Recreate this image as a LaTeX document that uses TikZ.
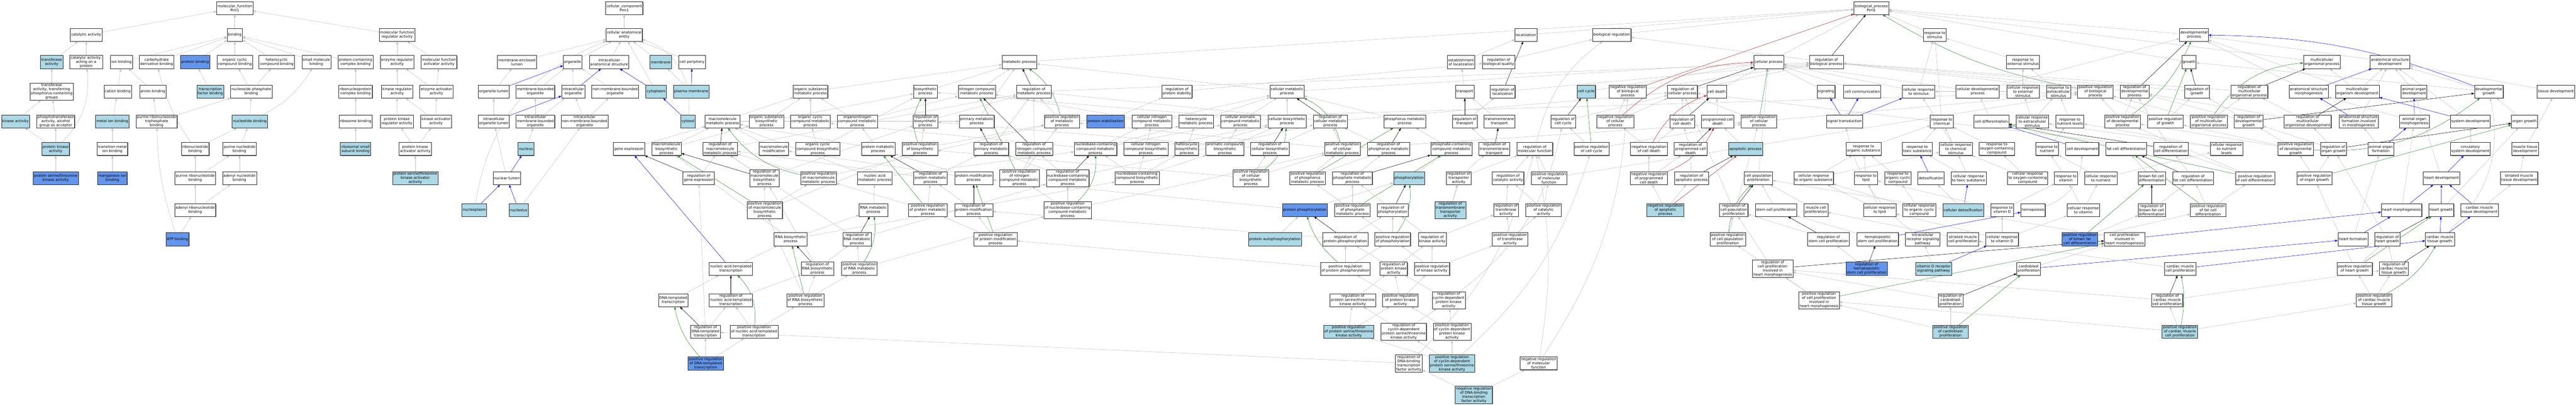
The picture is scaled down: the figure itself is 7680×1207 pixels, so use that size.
\documentclass[tikz,border=0pt]{standalone}
\usepackage{fontspec}
\setmainfont{DejaVu Sans}
\usetikzlibrary{arrows.meta,backgrounds,shadows}
\definecolor{termlight}{HTML}{ADD8E6}
\definecolor{termcorn}{HTML}{6495ED}
\definecolor{edgegray}{HTML}{C0C0C0}
\definecolor{edgegreen}{HTML}{228B22}
\definecolor{edgered}{HTML}{B22222}
\newcommand\termfont{\fontsize{10.8}{12.3}\selectfont}
\begin{document}
\begin{tikzpicture}[x=1pt,y=-1pt]
		\tikzstyle{goterm} = [draw=black!85, line width=0.9pt, fill=white, align=center,
		inner xsep=2.5pt, inner ysep=2pt, minimum height=39pt, font=\termfont,
		drop shadow={shadow xshift=1.3pt, shadow yshift=-1.3pt, fill=black!55, opacity=1}];
		\tikzstyle{golight} = [goterm, fill=termlight];
		\tikzstyle{gocorn} = [goterm, fill=termcorn];
		\tikzstyle{isa} = [draw=edgegray, line width=0.8pt, -{Triangle[length=8pt,width=6pt]}];
		\tikzstyle{regl} = [isa, draw=black];
		\tikzstyle{partof} = [isa, draw=blue];
		\tikzstyle{posreg} = [isa, draw=edgegreen];
		\tikzstyle{negreg} = [isa, draw=edgered];
		\useasboundingbox (0,0) rectangle (7680,1207);
		\node[goterm](mf) at (700,24) {molecular\_function\\Pim1};
		\node[goterm](cc) at (1861,24) {cellular\_component\\Pim1};
		\node[goterm](bp) at (5579,24) {biological\_process\\Pim1};
		\node[goterm](catact) at (257,104) {catalytic activity};
		\node[goterm](binding) at (700,104) {binding};
		\node[goterm](mfreg) at (1184,104) {molecular function\\regulator activity};
		\node[goterm](cae) at (1861,104) {cellular anatomical\\entity};
		\node[goterm](local) at (4549,104) {localization};
		\node[goterm](bioreg) at (4805,104) {biological regulation};
		\node[goterm](rstim) at (5768,104) {response to\\stimulus};
		\node[goterm](devproc) at (6541,104) {developmental\\process};
		\node[golight](transf) at (154,185) {transferase\\activity};
		\node[goterm](catprot) at (257,185) {catalytic activity,\\acting on a\\protein};
		\node[goterm](ionb) at (362,185) {ion binding};
		\node[goterm](carbb) at (467,185) {carbohydrate\\derivative binding};
		\node[gocorn](protb) at (582,185) {protein binding};
		\node[goterm](orgcyc) at (700,185) {organic cyclic\\compound binding};
		\node[goterm](hetcyc) at (825,185) {heterocyclic\\compound binding};
		\node[goterm](smallmol) at (943,185) {small molecule\\binding};
		\node[goterm](pcomplex) at (1060,185) {protein-containing\\complex binding};
		\node[goterm](enzreg) at (1184,185) {enzyme regulator\\activity};
		\node[goterm](mfact) at (1309,185) {molecular function\\activator activity};
		\node[goterm](mel) at (1541,185) {membrane-enclosed\\lumen};
		\node[goterm](organelle) at (1707,185) {organelle};
		\node[goterm](ias) at (1816,185) {intracellular\\anatomical structure};
		\node[golight](membrane) at (1970,185) {membrane};
		\node[goterm](cellper) at (2063,185) {cell periphery};
		\node[goterm](metab) at (3039,185) {metabolic process};
		\node[goterm](estloc) at (4356,185) {establishment\\of localization};
		\node[goterm](rbq) at (4468,185) {regulation of\\biological quality};
		\node[goterm](cellproc) at (5273,185) {cellular process};
		\node[goterm](rbp) at (5445,185) {regulation of\\biological process};
		\node[goterm](rext) at (6031,185) {response to\\external stimulus};
		\node[goterm](growth) at (6526,185) {growth};
		\node[goterm](mop) at (6922,185) {multicellular\\organismal process};
		\node[goterm](asd) at (7125,185) {anatomical structure\\development};
		\node[goterm](phosgrp) at (154,273) {transferase\\activity, transferring\\phosphorus-containing\\groups};
		\node[goterm](cationb) at (351,273) {cation binding};
		\node[goterm](anionb) at (456,273) {anion binding};
		\node[golight](tfb) at (627,273) {transcription\\factor binding};
		\node[goterm](nucphos) at (749,273) {nucleoside phosphate\\binding};
		\node[goterm](rnpcb) at (1060,273) {ribonucleoprotein\\complex binding};
		\node[goterm](kinreg) at (1184,273) {kinase regulator\\activity};
		\node[goterm](enzact) at (1301,273) {enzyme activator\\activity};
		\node[goterm](orglum) at (1472,273) {organelle lumen};
		\node[goterm](mbo) at (1596,273) {membrane-bounded\\organelle};
		\node[goterm](intorg) at (1709,273) {intracellular\\organelle};
		\node[goterm](nmbo) at (1834,273) {non-membrane-bounded\\organelle};
		\node[golight](cytoplasm) at (1956,273) {cytoplasm};
		\node[golight](plasmem) at (2061,273) {plasma membrane};
		\node[goterm](osmp) at (2416,273) {organic substance\\metabolic process};
		\node[goterm](biosyn) at (2759,273) {biosynthetic\\process};
		\node[goterm](ncmp) at (2912,273) {nitrogen compound\\metabolic process};
		\node[goterm](rmetab) at (3082,273) {regulation of\\metabolic process};
		\node[goterm](rpstab) at (3509,273) {regulation of\\protein stability};
		\node[goterm](cmp) at (3837,273) {cellular metabolic\\process};
		\node[goterm](transport) at (4367,273) {transport};
		\node[goterm](rloc) at (4480,273) {regulation of\\localization};
		\node[golight](cellcyc) at (4729,273) {cell cycle};
		\node[goterm](nrbp) at (4853,273) {negative regulation\\of biological\\process};
		\node[goterm](rcp) at (5016,273) {regulation of\\cellular process};
		\node[goterm](celldeath) at (5118,273) {cell death};
		\node[goterm](signaling) at (5444,273) {signaling};
		\node[goterm](cellcomm) at (5552,273) {cell communication};
		\node[goterm](crstim) at (5720,273) {cellular response\\to stimulus};
		\node[goterm](cdp) at (5896,273) {cellular developmental\\process};
		\node[goterm](crext) at (6031,273) {cellular response\\to external\\stimulus};
		\node[goterm](rextra) at (6137,273) {response to\\extracellular\\stimulus};
		\node[goterm](prbp) at (6247,273) {positive regulation\\of biological\\process};
		\node[goterm](rdp) at (6364,273) {regulation of\\developmental\\process};
		\node[goterm](rgrowth) at (6550,273) {regulation of\\growth};
		\node[goterm](rmop) at (6706,273) {regulation of\\multicellular\\organismal process};
		\node[goterm](asm) at (6883,273) {anatomical structure\\morphogenesis};
		\node[goterm](mod) at (7028,273) {multicellular\\organism development};
		\node[goterm](aod) at (7197,273) {animal organ\\development};
		\node[goterm](devgrowth) at (7420,273) {developmental\\growth};
		\node[goterm](tissdev) at (7620,273) {tissue development};
		\node[golight](kinase) at (46,362) {kinase activity};
		\node[goterm](phosalc) at (166,362) {phosphotransferase\\activity, alcohol\\group as acceptor};
		\node[golight](metalb) at (335,362) {metal ion binding};
		\node[goterm](prtpb) at (467,362) {purine ribonucleoside\\triphosphate\\binding};
		\node[golight](nucb) at (745,362) {nucleotide binding};
		\node[goterm](ribob) at (1060,362) {ribosome binding};
		\node[goterm](pkreg) at (1183,362) {protein kinase\\regulator activity};
		\node[goterm](kinact) at (1300,362) {kinase activator\\activity};
		\node[goterm](iol) at (1472,362) {intracellular\\organelle lumen};
		\node[goterm](imbo) at (1596,362) {intracellular\\membrane-bounded\\organelle};
		\node[goterm](inmbo) at (1743,362) {intracellular\\non-membrane-bounded\\organelle};
		\node[golight](cytosol) at (2051,362) {cytosol};
		\node[goterm](mmp) at (2154,362) {macromolecule\\metabolic process};
		\node[goterm](osbp) at (2285,362) {organic substance\\biosynthetic\\process};
		\node[goterm](occmp) at (2416,362) {organic cyclic\\compound metabolic\\process};
		\node[goterm](oncmp) at (2556,362) {organonitrogen\\compound metabolic\\process};
		\node[goterm](regbio) at (2759,362) {regulation of\\biosynthetic\\process};
		\node[goterm](pmp) at (2912,362) {primary metabolic\\process};
		\node[goterm](prmetab) at (3166,362) {positive regulation\\of metabolic\\process};
		\node[gocorn](pstab) at (3296,362) {protein stabilization};
		\node[goterm](cncmp) at (3434,362) {cellular nitrogen\\compound metabolic\\process};
		\node[goterm](hetmp) at (3566,362) {heterocycle\\metabolic process};
		\node[goterm](camp) at (3698,362) {cellular aromatic\\compound metabolic\\process};
		\node[goterm](cbp) at (3837,362) {cellular biosynthetic\\process};
		\node[goterm](rcmp) at (3966,362) {regulation of\\cellular metabolic\\process};
		\node[goterm](phosmp) at (4188,362) {phosphorus metabolic\\process};
		\node[goterm](rtrans) at (4367,362) {regulation of\\transport};
		\node[goterm](tmtrans) at (4470,362) {transmembrane\\transport};
		\node[goterm](rcc) at (4660,362) {regulation of\\cell cycle};
		\node[goterm](nrcp) at (4816,362) {negative regulation\\of cellular\\process};
		\node[goterm](rcd) at (5015,362) {regulation of\\cell death};
		\node[goterm](pcd) at (5121,362) {programmed cell\\death};
		\node[goterm](prcp) at (5244,362) {positive regulation\\of cellular\\process};
		\node[goterm](sigtrans) at (5499,362) {signal transduction};
		\node[goterm](rchem) at (5789,362) {response to\\chemical};
		\node[goterm](celldiff) at (5937,362) {cell differentiation};
		\node[goterm](crextra) at (6059,362) {cellular response\\to extracellular\\stimulus};
		\node[goterm](rnutl) at (6171,362) {response to\\nutrient levels};
		\node[goterm](prdp) at (6328,362) {positive regulation\\of developmental\\process};
		\node[goterm](prgrowth) at (6456,362) {positive regulation\\of growth};
		\node[goterm](prmop) at (6585,362) {positive regulation\\of multicellular\\organismal process};
		\node[goterm](rdg) at (6704,362) {regulation of\\developmental\\growth};
		\node[goterm](rmod) at (6880,362) {regulation of\\multicellular\\organismal development};
		\node[goterm](asfm) at (7032,362) {anatomical structure\\formation involved\\in morphogenesis};
		\node[goterm](aom) at (7198,362) {animal organ\\morphogenesis};
		\node[goterm](sysdev) at (7365,362) {system development};
		\node[goterm](orggrowth) at (7526,362) {organ growth};
		\node[golight](pkact) at (166,444) {protein kinase\\activity};
		\node[goterm](transmet) at (335,444) {transition metal\\ion binding};
		\node[goterm](ribonuc) at (582,444) {ribonucleotide\\binding};
		\node[goterm](purnucb) at (714,444) {purine nucleotide\\binding};
		\node[golight](rssb) at (1060,444) {ribosomal small\\subunit binding};
		\node[goterm](pkactor) at (1238,444) {protein kinase\\activator activity};
		\node[golight](nucleus) at (1568,444) {nucleus};
		\node[goterm](genexp) at (1875,444) {gene expression};
		\node[goterm](mbp) at (1987,444) {macromolecule\\biosynthetic\\process};
		\node[goterm](rmmp) at (2147,444) {regulation of\\macromolecule\\metabolic process};
		\node[goterm](mmod) at (2307,444) {macromolecule\\modification};
		\node[goterm](occbp) at (2438,444) {organic cyclic\\compound biosynthetic\\process};
		\node[goterm](protmp) at (2618,444) {protein metabolic\\process};
		\node[goterm](prbio) at (2743,444) {positive regulation\\of biosynthetic\\process};
		\node[goterm](rpmp) at (2955,444) {regulation of\\primary metabolic\\process};
		\node[goterm](rncmp) at (3083,444) {regulation of\\nitrogen compound\\metabolic process};
		\node[goterm](nccmp) at (3266,444) {nucleobase-containing\\compound metabolic\\process};
		\node[goterm](cncbp) at (3416,444) {cellular nitrogen\\compound biosynthetic\\process};
		\node[goterm](hetbp) at (3538,444) {heterocycle\\biosynthetic\\process};
		\node[goterm](acbp) at (3652,444) {aromatic compound\\biosynthetic\\process};
		\node[goterm](rcbp) at (3786,444) {regulation of\\cellular biosynthetic\\process};
		\node[goterm](prcmp) at (4002,444) {positive regulation\\of cellular\\metabolic process};
		\node[goterm](rphosmp) at (4140,444) {regulation of\\phosphorus metabolic\\process};
		\node[goterm](pccmp) at (4327,444) {phosphate-containing\\compound metabolic\\process};
		\node[goterm](rtmt) at (4455,444) {regulation of\\transmembrane\\transport};
		\node[goterm](rmf) at (4576,444) {regulation of\\molecular function};
		\node[goterm](prcc) at (4745,444) {positive regulation\\of cell cycle};
		\node[goterm](nrcd) at (4916,444) {negative regulation\\of cell death};
		\node[goterm](rpcd) at (5040,444) {regulation of\\programmed cell\\death};
		\node[golight](apop) at (5204,444) {apoptotic process};
		\node[goterm](rorgsub) at (5556,444) {response to\\organic substance};
		\node[goterm](rtox) at (5716,444) {response to\\toxic substance};
		\node[goterm](crchem) at (5831,444) {cellular response\\to chemical\\stimulus};
		\node[goterm](roxy) at (5953,444) {response to\\oxygen-containing\\compound};
		\node[goterm](rnut) at (6103,444) {response to\\nutrient};
		\node[goterm](celldev) at (6208,444) {cell development};
		\node[goterm](fcd) at (6339,444) {fat cell differentiation};
		\node[goterm](rcdiff) at (6472,444) {regulation of\\cell differentiation};
		\node[goterm](crnutl) at (6638,444) {cellular response\\to nutrient\\levels};
		\node[goterm](prdg) at (6844,444) {positive regulation\\of developmental\\growth};
		\node[goterm](rog) at (6957,444) {regulation of\\organ growth};
		\node[goterm](aof) at (7098,444) {animal organ\\formation};
		\node[goterm](csd) at (7365,444) {circulatory\\system development};
		\node[goterm](mtd) at (7528,444) {muscle tissue\\development};
		\node[gocorn](pstk) at (166,531) {protein serine/threonine\\kinase activity};
		\node[gocorn](mnb) at (335,531) {manganese ion\\binding};
		\node[goterm](purrib) at (582,531) {purine ribonucleotide\\binding};
		\node[goterm](adenb) at (714,531) {adenyl nucleotide\\binding};
		\node[golight](pstkact) at (1238,531) {protein serine/threonine\\kinase activator\\activity};
		\node[goterm](nuclum) at (1511,531) {nuclear lumen};
		\node[goterm](rgenexp) at (2083,531) {regulation of\\gene expression};
		\node[goterm](rmbp) at (2279,531) {regulation of\\macromolecule\\biosynthetic\\process};
		\node[goterm](prmmp) at (2440,531) {positive regulation\\of macromolecule\\metabolic process};
		\node[goterm](nacmp) at (2608,531) {nucleic acid\\metabolic process};
		\node[goterm](rprotmp) at (2774,531) {regulation of\\protein metabolic\\process};
		\node[goterm](pmodp) at (2903,531) {protein modification\\process};
		\node[goterm](prncmp) at (3039,531) {positive regulation\\of nitrogen\\compound metabolic\\process};
		\node[goterm](rnccmp) at (3183,531) {regulation of\\nucleobase-containing\\compound metabolic\\process};
		\node[goterm](nccbp) at (3390,531) {nucleobase-containing\\compound biosynthetic\\process};
		\node[goterm](prcbp) at (3729,531) {positive regulation\\of cellular\\biosynthetic\\process};
		\node[goterm](prphosmp) at (3898,531) {positive regulation\\of phosphorus\\metabolic process};
		\node[goterm](rphatmp) at (4032,531) {regulation of\\phosphate metabolic\\process};
		\node[golight](phosph) at (4201,531) {phosphorylation};
		\node[goterm](rtact) at (4349,531) {regulation of\\transporter\\activity};
		\node[goterm](rcat) at (4496,531) {regulation of\\catalytic activity};
		\node[goterm](prmf) at (4618,531) {positive regulation\\of molecular\\function};
		\node[goterm](nrpcd) at (4916,531) {negative regulation\\of programmed\\cell death};
		\node[goterm](rapop) at (5043,531) {regulation of\\apoptotic process};
		\node[goterm](cpp) at (5242,531) {cell population\\proliferation};
		\node[goterm](crorg) at (5407,531) {cellular response\\to organic substance};
		\node[goterm](rlipid) at (5563,531) {response to\\lipid};
		\node[goterm](rocc) at (5658,531) {response to\\organic cyclic\\compound};
		\node[goterm](detox) at (5757,531) {detoxification};
		\node[goterm](crtox) at (5869,531) {cellular response\\to toxic substance};
		\node[goterm](croxy) at (6045,531) {cellular response\\to oxygen-containing\\compound};
		\node[goterm](rvit) at (6159,531) {response to\\vitamin};
		\node[goterm](crnut) at (6263,531) {cellular response\\to nutrient};
		\node[goterm](bfcd) at (6415,531) {brown fat cell\\differentiation};
		\node[goterm](rfcd) at (6538,531) {regulation of\\fat cell differentiation};
		\node[goterm](prcdiff) at (6723,531) {positive regulation\\of cell differentiation};
		\node[goterm](prog) at (6900,531) {positive regulation\\of organ growth};
		\node[goterm](heartdev) at (7279,531) {heart development};
		\node[goterm](smtd) at (7510,531) {striated muscle\\tissue development};
		\node[goterm](adenrib) at (582,626) {adenyl ribonucleotide\\binding};
		\node[golight](nucplasm) at (1414,626) {nucleoplasm};
		\node[golight](nucleolus) at (1546,626) {nucleolus};
		\node[goterm](prmbp) at (2280,626) {positive regulation\\of macromolecule\\biosynthetic\\process};
		\node[goterm](rnamp) at (2604,626) {RNA metabolic\\process};
		\node[goterm](prprotmp) at (2766,626) {positive regulation\\of protein metabolic\\process};
		\node[goterm](rpmodp) at (2903,626) {regulation of\\protein modification\\process};
		\node[goterm](prnccmp) at (3183,626) {positive regulation\\of nucleobase-containing\\compound metabolic\\process};
		\node[gocorn](protphos) at (3890,626) {protein phosphorylation};
		\node[goterm](prphatmp) at (4032,626) {positive regulation\\of phosphate\\metabolic process};
		\node[goterm](rphos) at (4152,626) {regulation of\\phosphorylation};
		\node[golight](rtmta) at (4324,626) {regulation of\\transmembrane\\transporter\\activity};
		\node[goterm](rtransf) at (4490,626) {regulation of\\transferase\\activity};
		\node[goterm](prcat) at (4602,626) {positive regulation\\of catalytic\\activity};
		\node[golight](nrapop) at (4965,626) {negative regulation\\of apoptotic\\process};
		\node[goterm](rcpp) at (5169,626) {regulation of\\cell population\\proliferation};
		\node[goterm](scp) at (5295,626) {stem cell proliferation};
		\node[goterm](mcp) at (5414,626) {muscle cell\\proliferation};
		\node[goterm](crlipid) at (5604,626) {cellular response\\to lipid};
		\node[goterm](crocc) at (5722,626) {cellular response\\to organic cyclic\\compound};
		\node[golight](cdetox) at (5853,626) {cellular detoxification};
		\node[goterm](rvitd) at (5969,626) {response to\\vitamin D};
		\node[goterm](hemo) at (6061,626) {hemopoiesis};
		\node[goterm](crvit) at (6211,626) {cellular response\\to vitamin};
		\node[goterm](rbfcd) at (6415,626) {regulation of\\brown fat cell\\differentiation};
		\node[goterm](prfcd) at (6583,626) {positive regulation\\of fat cell\\differentiation};
		\node[goterm](heartmorph) at (7160,626) {heart morphogenesis};
		\node[goterm](heartgrowth) at (7278,626) {heart growth};
		\node[goterm](cmtd) at (7392,626) {cardiac muscle\\tissue development};
		\node[gocorn](atpb) at (529,713) {ATP binding};
		\node[goterm](rnabp) at (2357,713) {RNA biosynthetic\\process};
		\node[goterm](rrnamp) at (2555,713) {regulation of\\RNA metabolic\\process};
		\node[goterm](prpmodp) at (2968,713) {positive regulation\\of protein modification\\process};
		\node[golight](autophos) at (3801,713) {protein autophosphorylation};
		\node[goterm](rprotphos) at (4011,713) {regulation of\\protein phosphorylation};
		\node[goterm](prphos) at (4152,713) {positive regulation\\of phosphorylation};
		\node[goterm](rkin) at (4270,713) {regulation of\\kinase activity};
		\node[goterm](prtransf) at (4502,713) {positive regulation\\of transferase\\activity};
		\node[goterm](prcpp) at (5151,713) {positive regulation\\of cell population\\proliferation};
		\node[goterm](rscp) at (5451,713) {regulation of\\stem cell proliferation};
		\node[goterm](hscp) at (5598,713) {hematopoietic\\stem cell proliferation};
		\node[goterm](irsp) at (5732,713) {intracellular\\receptor signaling\\pathway};
		\node[goterm](smcp) at (5852,713) {striated muscle\\cell proliferation};
		\node[goterm](crvitd) at (5969,713) {cellular response\\to vitamin D};
		\node[gocorn](prbfcd) at (6201,713) {positive regulation\\of brown fat\\cell differentiation};
		\node[goterm](cpihm) at (6334,713) {cell proliferation\\involved in\\heart morphogenesis};
		\node[goterm](heartform) at (7015,713) {heart formation};
		\node[goterm](rhg) at (7117,713) {regulation of\\heart growth};
		\node[goterm](cmtg) at (7274,713) {cardiac muscle\\tissue growth};
		\node[goterm](natt) at (2179,801) {nucleic acid-templated\\transcription};
		\node[goterm](rrnabp) at (2437,801) {regulation of\\RNA biosynthetic\\process};
		\node[goterm](prrnamp) at (2562,801) {positive regulation\\of RNA metabolic\\process};
		\node[goterm](prprotphos) at (4011,801) {positive regulation\\of protein phosphorylation};
		\node[goterm](rpk) at (4155,801) {regulation of\\protein kinase\\activity};
		\node[goterm](prkin) at (4269,801) {positive regulation\\of kinase activity};
		\node[goterm](rcpihm) at (5285,801) {regulation of\\cell proliferation\\involved in\\heart morphogenesis};
		\node[gocorn](rhscp) at (5565,801) {regulation of\\hematopoietic\\stem cell proliferation};
		\node[golight](vdrsp) at (5765,801) {vitamin D receptor\\signaling pathway};
		\node[goterm](cbprol) at (6048,801) {cardioblast\\proliferation};
		\node[goterm](cmcp) at (6500,801) {cardiac muscle\\cell proliferation};
		\node[goterm](prhg) at (7020,801) {positive regulation\\of heart growth};
		\node[goterm](rcmtg) at (7137,801) {regulation of\\cardiac muscle\\tissue growth};
		\node[goterm](dtt) at (2007,895) {DNA-templated\\transcription};
		\node[goterm](rnatt) at (2179,895) {regulation of\\nucleic acid-templated\\transcription};
		\node[goterm](prrnabp) at (2401,895) {positive regulation\\of RNA biosynthetic\\process};
		\node[goterm](rpstka) at (4033,895) {regulation of\\protein serine/threonine\\kinase activity};
		\node[goterm](prpk) at (4175,895) {positive regulation\\of protein kinase\\activity};
		\node[goterm](rcdpk) at (4319,895) {regulation of\\cyclin-dependent\\protein kinase\\activity};
		\node[goterm](prcpihm) at (5423,895) {positive regulation\\of cell proliferation\\involved in\\heart morphogenesis};
		\node[goterm](rcbprol) at (5815,895) {regulation of\\cardioblast\\proliferation};
		\node[goterm](rcmcp) at (6461,895) {regulation of\\cardiac muscle\\cell proliferation};
		\node[goterm](prcmtg) at (7078,895) {positive regulation\\of cardiac muscle\\tissue growth};
		\node[goterm](rdtt) at (2103,989) {regulation of\\DNA-templated\\transcription};
		\node[goterm](prnatt) at (2248,989) {positive regulation\\of nucleic acid-templated\\transcription};
		\node[golight](prpstka) at (4021,989) {positive regulation\\of protein serine/threonine\\kinase activity};
		\node[goterm](rcdpstk) at (4185,989) {regulation of\\cyclin-dependent\\protein serine/threonine\\kinase activity};
		\node[goterm](prcdpk) at (4329,989) {positive regulation\\of cyclin-dependent\\protein kinase\\activity};
		\node[golight](prcbprol) at (5815,989) {positive regulation\\of cardioblast\\proliferation};
		\node[golight](prcmcp) at (6499,989) {positive regulation\\of cardiac muscle\\cell proliferation};
		\node[gocorn](prdtt) at (2104,1083) {positive regulation\\of DNA-templated\\transcription};
		\node[goterm](rdbtf) at (4200,1083) {regulation of\\DNA-binding\\transcription\\factor activity};
		\node[golight](prcdpstk) at (4329,1083) {positive regulation\\of cyclin-dependent\\protein serine/threonine\\kinase activity};
		\node[goterm](nrmf) at (4587,1083) {negative regulation\\of molecular\\function};
		\node[golight](nrdbtf) at (4394,1177) {negative regulation\\of DNA-binding\\transcription\\factor activity};
		\begin{pgfonlayer}{background}
		\fill[white] (0,0) rectangle (7680,1207);
		\path (catact) edge[isa] (mf);
		\path (binding) edge[isa] (mf);
		\path (mfreg) edge[isa] (mf);
		\path (transf) edge[isa] (catact);
		\path (catprot) edge[isa] (catact);
		\path (ionb) edge[isa] (binding);
		\path (carbb) edge[isa] (binding);
		\path (protb) edge[isa] (binding);
		\path (orgcyc) edge[isa] (binding);
		\path (hetcyc) edge[isa] (binding);
		\path (smallmol) edge[isa] (binding);
		\path (pcomplex) edge[isa] (binding);
		\path (enzreg) edge[isa] (mfreg);
		\path (mfact) edge[isa] (mfreg);
		\path (phosgrp) edge[isa] (transf);
		\path (cationb) edge[isa] (ionb);
		\path (anionb) edge[isa] (ionb);
		\path (tfb) edge[isa] (protb);
		\path (nucphos) edge[isa] (orgcyc) edge[isa] (hetcyc);
		\path (rnpcb) edge[isa] (pcomplex);
		\path (kinreg) edge[isa] (enzreg);
		\path (enzact) edge[isa] (enzreg) edge[isa] (mfact);
		\path (kinase) edge[isa] (phosgrp);
		\path (phosalc) edge[isa] (phosgrp);
		\path (metalb) edge[isa] (cationb);
		\path (prtpb) edge[isa] (anionb) edge[isa] (nucphos);
		\path (nucb) edge[isa] (nucphos) edge[isa, bend right=15] (smallmol);
		\path (ribob) edge[isa] (rnpcb);
		\path (pkreg) edge[isa] (kinreg);
		\path (kinact) edge[isa] (kinreg) edge[isa] (enzact);
		\path (pkact) edge[isa] (kinase) edge[isa] (phosalc) edge[isa, bend right=25] (catprot);
		\path (transmet) edge[isa] (metalb);
		\path (ribonuc) edge[isa, bend left=10] (carbb) edge[isa] (nucb);
		\path (purnucb) edge[isa] (nucb);
		\path (rssb) edge[isa] (ribob);
		\path (pkactor) edge[isa] (pkreg) edge[isa] (kinact);
		\path (pstk) edge[isa] (pkact);
		\path (mnb) edge[isa] (transmet);
		\path (purrib) edge[isa] (ribonuc) edge[isa] (purnucb);
		\path (adenb) edge[isa] (purnucb);
		\path (pstkact) edge[isa] (pkactor);
		\path (adenrib) edge[isa] (purrib) edge[isa] (adenb);
		\path (atpb) edge[isa] (adenrib) edge[isa, bend left=8] (prtpb);
		\path (cae) edge[isa] (cc);
		\path (mel) edge[isa] (cae);
		\path (organelle) edge[isa] (cae);
		\path (ias) edge[isa] (cae);
		\path (membrane) edge[isa] (cae);
		\path (cellper) edge[isa] (cae);
		\path (orglum) edge[isa] (mel) edge[partof] (organelle);
		\path (mbo) edge[isa] (organelle);
		\path (intorg) edge[isa] (organelle) edge[partof] (ias);
		\path (nmbo) edge[isa] (organelle);
		\path (cytoplasm) edge[isa] (cae) edge[partof] (ias);
		\path (plasmem) edge[isa] (membrane) edge[partof] (cellper);
		\path (iol) edge[isa] (orglum) edge[partof] (intorg);
		\path (imbo) edge[isa] (mbo) edge[isa] (intorg);
		\path (inmbo) edge[isa] (intorg) edge[isa] (nmbo);
		\path (cytosol) edge[isa, bend right=40] (cae) edge[partof] (cytoplasm);
		\path (nucleus) edge[isa] (imbo);
		\path (nuclum) edge[isa] (iol) edge[partof] (nucleus);
		\path (nucplasm) edge[isa, bend left=30] (cae) edge[partof] (nuclum);
		\path (nucleolus) edge[isa] (inmbo) edge[partof] (nuclum);
		\path (local) edge[isa] (bp);
		\path (bioreg) edge[isa] (bp);
		\path (rstim) edge[isa] (bp);
		\path (devproc) edge[isa] (bp);
		\path (growth) edge[isa] (bp);
		\path (mop) edge[isa] (bp);
		\path (metab) edge[isa] (bp);
		\path (cellproc) edge[isa] (bp);
		\path (rbp) edge[isa] (bioreg) edge[regl] (bp);
		\path (nrbp) edge[isa] (rbp) edge[negreg] (bp);
		\path (prbp) edge[isa] (rbp) edge[posreg, bend left=10] (bp);
		\path (estloc) edge[isa] (local);
		\path (rbq) edge[isa] (bioreg);
		\path (transport) edge[isa] (estloc);
		\path (rloc) edge[isa] (rbp) edge[regl] (local);
		\path (rmf) edge[isa, bend left=20] (bioreg);
		\path (osmp) edge[isa] (metab);
		\path (biosyn) edge[isa] (metab);
		\path (ncmp) edge[isa] (metab);
		\path (pmp) edge[isa] (metab);
		\path (cmp) edge[isa] (metab) edge[isa] (cellproc);
		\path (rmetab) edge[isa] (rbp) edge[regl] (metab);
		\path (rpstab) edge[isa] (rbq);
		\path (mmp) edge[isa] (osmp) edge[isa] (pmp);
		\path (osbp) edge[isa] (osmp) edge[isa] (biosyn);
		\path (occmp) edge[isa] (osmp);
		\path (oncmp) edge[isa] (osmp) edge[isa] (ncmp);
		\path (regbio) edge[isa] (rmetab) edge[regl] (biosyn);
		\path (prmetab) edge[isa] (rmetab) edge[isa] (prbp) edge[posreg, bend right=20] (metab);
		\path (pstab) edge[isa] (rpstab);
		\path (cncmp) edge[isa] (ncmp) edge[isa] (cmp);
		\path (hetmp) edge[isa] (cmp);
		\path (camp) edge[isa] (cmp);
		\path (cbp) edge[isa] (cmp) edge[isa] (biosyn);
		\path (rcmp) edge[isa] (rmetab) edge[isa] (rcp) edge[regl] (cmp);
		\path (phosmp) edge[isa] (cmp);
		\path (genexp) edge[isa] (mmp);
		\path (mbp) edge[isa] (mmp) edge[isa] (osbp);
		\path (rmmp) edge[isa] (rmetab) edge[regl] (mmp);
		\path (mmod) edge[isa] (mmp);
		\path (occbp) edge[isa] (occmp) edge[isa] (biosyn);
		\path (protmp) edge[isa] (oncmp) edge[isa] (mmp);
		\path (prbio) edge[isa] (regbio) edge[isa] (prmetab) edge[posreg, bend left=25] (biosyn);
		\path (rpmp) edge[isa] (rmetab) edge[regl] (pmp);
		\path (rncmp) edge[isa] (rmetab) edge[regl] (ncmp);
		\path (nccmp) edge[isa] (hetmp) edge[isa] (camp) edge[isa] (cncmp) edge[isa] (occmp);
		\path (cncbp) edge[isa] (cncmp) edge[isa] (cbp);
		\path (hetbp) edge[isa] (hetmp) edge[isa] (cbp);
		\path (acbp) edge[isa] (camp) edge[isa] (cbp);
		\path (rcbp) edge[isa] (regbio) edge[isa] (rcmp) edge[regl] (cbp);
		\path (prcmp) edge[isa] (rcmp) edge[isa] (prmetab) edge[isa] (prcp) edge[posreg, bend right=25] (cmp);
		\path (rphosmp) edge[isa] (rcmp) edge[regl] (phosmp);
		\path (pccmp) edge[isa] (phosmp);
		\path (rgenexp) edge[isa] (rmmp) edge[regl] (genexp);
		\path (rmbp) edge[isa] (rmmp) edge[isa] (regbio) edge[regl] (mbp);
		\path (prmmp) edge[isa] (rmmp) edge[isa] (prmetab) edge[posreg, bend left=20] (mmp);
		\path (nacmp) edge[isa] (nccmp) edge[isa] (mmp);
		\path (rprotmp) edge[isa] (rmmp) edge[isa] (rpmp) edge[regl] (protmp);
		\path (pmodp) edge[isa] (protmp) edge[isa] (mmod);
		\path (prncmp) edge[isa] (rncmp) edge[isa] (prmetab) edge[posreg] (ncmp);
		\path (rnccmp) edge[isa] (rncmp) edge[isa] (rcmp) edge[isa] (rpmp) edge[regl] (nccmp);
		\path (nccbp) edge[isa] (nccmp) edge[isa] (cncbp) edge[isa] (hetbp) edge[isa] (acbp);
		\path (prcbp) edge[isa] (rcbp) edge[isa] (prcmp) edge[isa] (prbio) edge[posreg, bend right=25] (cbp);
		\path (prphosmp) edge[isa] (rphosmp) edge[isa] (prcmp) edge[posreg] (phosmp);
		\path (rphatmp) edge[isa] (rphosmp) edge[regl] (pccmp);
		\path (phosph) edge[isa] (pccmp);
		\path (prmbp) edge[isa] (rmbp) edge[isa] (prmmp) edge[isa] (prbio) edge[posreg] (mbp);
		\path (rnamp) edge[isa] (nacmp);
		\path (prprotmp) edge[isa] (rprotmp) edge[isa] (prmmp) edge[posreg] (protmp);
		\path (rpmodp) edge[isa] (rprotmp) edge[regl] (pmodp);
		\path (prnccmp) edge[isa] (rnccmp) edge[isa] (prncmp) edge[isa] (prcmp) edge[posreg, bend right=25] (nccmp);
		\path (protphos) edge[isa] (phosph) edge[isa] (pmodp);
		\path (prphatmp) edge[isa] (rphatmp) edge[isa] (prphosmp) edge[posreg] (pccmp);
		\path (rphos) edge[isa] (rphatmp) edge[regl] (phosph);
		\path (rnabp) edge[isa] (rnamp) edge[isa] (mbp) edge[isa] (nccbp);
		\path (rrnamp) edge[isa] (rnccmp) edge[isa] (rmmp) edge[regl] (rnamp);
		\path (prpmodp) edge[isa] (rpmodp) edge[isa] (prprotmp) edge[posreg] (pmodp);
		\path (autophos) edge[isa] (protphos);
		\path (rprotphos) edge[isa] (rphos) edge[isa] (rpmodp) edge[regl] (protphos);
		\path (prphos) edge[isa] (rphos) edge[isa] (prphatmp) edge[posreg, bend right=20] (phosph);
		\path (rkin) edge[isa] (rtransf) edge[isa] (rphos);
		\path (natt) edge[isa] (rnabp) edge[partof] (genexp);
		\path (rrnabp) edge[isa] (rrnamp) edge[isa] (rmbp) edge[regl] (rnabp);
		\path (prrnamp) edge[isa] (rrnamp) edge[isa] (prnccmp) edge[posreg, bend right=20] (rnamp);
		\path (prprotphos) edge[isa] (rprotphos) edge[isa] (prphos) edge[isa] (prpmodp) edge[posreg, bend left=15] (protphos);
		\path (rpk) edge[isa] (rkin) edge[isa] (rprotphos);
		\path (prkin) edge[isa] (rkin) edge[isa] (prtransf) edge[isa] (prphos);
		\path (dtt) edge[isa] (natt);
		\path (rnatt) edge[regl] (natt) edge[isa] (rrnabp);
		\path (prrnabp) edge[isa] (rrnabp) edge[isa] (prrnamp) edge[isa] (prmbp) edge[posreg] (rnabp);
		\path (rpstka) edge[isa] (rpk);
		\path (prpk) edge[isa] (rpk) edge[isa] (prkin) edge[isa] (prprotphos);
		\path (rcdpk) edge[isa] (rpk) edge[isa, bend right=20] (rcc);
		\path (rdtt) edge[isa] (rnatt) edge[isa] (rgenexp) edge[regl] (dtt);
		\path (prnatt) edge[isa] (rnatt) edge[isa] (prrnabp) edge[posreg, bend right=25] (natt);
		\path (prpstka) edge[isa] (rpstka) edge[isa] (prpk);
		\path (rcdpstk) edge[isa] (rpstka) edge[isa] (rcdpk);
		\path (prcdpk) edge[isa] (rcdpk) edge[isa] (prpk);
		\path (prdtt) edge[isa] (rdtt) edge[isa] (prnatt) edge[posreg, bend left=15] (dtt);
		\path (rdbtf) edge[isa, bend right=15] (rmf) edge[isa] (rdtt);
		\path (prcdpstk) edge[isa] (rcdpstk) edge[isa] (prcdpk) edge[isa] (prpstka) edge[isa, bend right=15] (prcc);
		\path (nrmf) edge[isa, bend right=10] (rmf) edge[isa, bend right=15] (nrbp);
		\path (nrdbtf) edge[isa] (rdbtf) edge[isa] (nrmf);
		\path (cellcyc) edge[isa] (cellproc);
		\path (rcp) edge[isa] (rbp) edge[regl] (cellproc);
		\path (celldeath) edge[isa] (cellproc);
		\path (rtrans) edge[isa] (rloc) edge[regl] (transport);
		\path (tmtrans) edge[isa] (transport);
		\path (rcc) edge[isa] (rcp) edge[regl] (cellcyc);
		\path (nrcp) edge[isa] (rcp) edge[isa] (nrbp) edge[negreg, bend left=20] (cellproc);
		\path (rcd) edge[isa] (rcp) edge[regl] (celldeath);
		\path (pcd) edge[isa] (celldeath);
		\path (prcp) edge[isa] (rcp) edge[isa] (prbp) edge[posreg] (cellproc);
		\path (rtmt) edge[isa] (rtrans) edge[regl] (tmtrans);
		\path (prcc) edge[isa] (rcc) edge[isa] (prcp) edge[posreg] (cellcyc);
		\path (nrcd) edge[isa] (rcd) edge[isa] (nrcp) edge[negreg, bend left=20] (celldeath);
		\path (rpcd) edge[isa] (rcd) edge[regl] (pcd);
		\path (apop) edge[isa] (pcd);
		\path (rtact) edge[isa] (rmf);
		\path (rcat) edge[isa] (rmf);
		\path (prmf) edge[isa] (rmf) edge[isa] (prbp);
		\path (nrpcd) edge[isa] (rpcd) edge[isa] (nrcd) edge[negreg, bend right=20] (pcd);
		\path (rapop) edge[isa] (rpcd) edge[regl] (apop);
		\path (cpp) edge[isa] (cellproc);
		\path (rtmta) edge[isa] (rtact) edge[isa, bend left=20] (rtmt);
		\path (rtransf) edge[isa] (rcat);
		\path (prcat) edge[isa] (rcat) edge[isa] (prmf);
		\path (nrapop) edge[isa] (rapop) edge[isa] (nrpcd) edge[negreg] (apop);
		\path (rcpp) edge[isa] (rcp) edge[regl] (cpp);
		\path (scp) edge[isa] (cpp);
		\path (prtransf) edge[isa] (rtransf) edge[isa] (prcat);
		\path (prcpp) edge[isa] (rcpp) edge[isa] (prcp) edge[posreg, bend left=20] (cpp);
		\path (rcpihm) edge[isa] (rcpp) edge[regl] (cpihm);
		\path (rext) edge[isa] (rstim);
		\path (signaling) edge[isa] (cellproc);
		\path (cellcomm) edge[isa] (cellproc);
		\path (crstim) edge[isa] (rstim) edge[isa] (cellproc);
		\path (cdp) edge[isa] (devproc) edge[isa] (cellproc);
		\path (crext) edge[isa] (rext) edge[isa] (crstim);
		\path (rextra) edge[isa] (rext);
		\path (rdp) edge[isa] (rbp) edge[regl] (devproc);
		\path (rgrowth) edge[isa] (rbp) edge[regl] (growth);
		\path (rmop) edge[isa] (rbp) edge[regl] (mop);
		\path (asd) edge[isa] (devproc);
		\path (asm) edge[isa] (devproc) edge[partof] (asd);
		\path (mod) edge[isa] (asd) edge[isa] (mop) edge[isa] (devproc);
		\path (aod) edge[isa] (asd);
		\path (devgrowth) edge[isa] (growth) edge[isa] (asd) edge[partof, bend right=10] (devproc);
		\path (tissdev) edge[isa] (asd);
		\path (sigtrans) edge[partof] (signaling) edge[partof] (cellcomm) edge[partof] (crstim);
		\path (rchem) edge[isa] (rstim);
		\path (celldiff) edge[isa] (cdp);
		\path (crextra) edge[isa] (rextra) edge[isa] (crext);
		\path (rnutl) edge[isa] (rextra);
		\path (prdp) edge[isa] (rdp) edge[isa] (prbp) edge[posreg, bend right=15] (devproc);
		\path (prgrowth) edge[isa] (rgrowth) edge[isa] (prbp) edge[posreg] (growth);
		\path (prmop) edge[isa] (rmop) edge[isa] (prbp) edge[posreg, bend left=25] (mop);
		\path (rdg) edge[isa] (rgrowth) edge[isa] (rdp) edge[regl] (devgrowth);
		\path (rmod) edge[isa] (rmop) edge[isa] (rdp) edge[regl] (mod);
		\path (asfm) edge[isa] (asd) edge[partof] (asm);
		\path (aom) edge[isa] (asm) edge[partof] (aod);
		\path (sysdev) edge[isa] (asd) edge[partof] (mod);
		\path (orggrowth) edge[isa] (devgrowth);
		\path (rorgsub) edge[isa] (rchem);
		\path (rtox) edge[isa] (rchem);
		\path (crchem) edge[isa] (rchem) edge[isa] (crstim);
		\path (roxy) edge[isa] (rchem);
		\path (rnut) edge[isa] (rnutl);
		\path (celldev) edge[partof] (celldiff);
		\path (fcd) edge[isa] (celldiff);
		\path (rcdiff) edge[isa] (rcp) edge[isa] (rdp) edge[regl] (celldiff);
		\path (crnutl) edge[isa] (rnutl) edge[isa] (crextra);
		\path (prdg) edge[isa] (rdg) edge[isa] (prgrowth) edge[isa] (prdp) edge[posreg, bend right=20] (devgrowth);
		\path (rog) edge[isa] (rdg) edge[isa] (rmod) edge[regl] (orggrowth);
		\path (aof) edge[isa] (asfm) edge[partof] (aom);
		\path (csd) edge[isa] (sysdev);
		\path (mtd) edge[isa] (tissdev);
		\path (crorg) edge[isa] (rorgsub) edge[isa] (crchem);
		\path (rlipid) edge[isa] (rorgsub);
		\path (rocc) edge[isa] (rorgsub);
		\path (detox) edge[partof] (rtox);
		\path (crtox) edge[isa] (rtox) edge[isa] (crchem);
		\path (croxy) edge[isa] (roxy) edge[isa] (crchem);
		\path (rvit) edge[isa] (rnut);
		\path (crnut) edge[isa] (rnut) edge[isa] (crnutl);
		\path (bfcd) edge[isa] (fcd);
		\path (rfcd) edge[isa] (rcdiff) edge[regl] (fcd);
		\path (prcdiff) edge[isa] (rcdiff) edge[isa] (prdp) edge[posreg] (celldiff);
		\path (prog) edge[isa] (rog) edge[isa] (prdg) edge[posreg] (orggrowth);
		\path (heartdev) edge[isa] (aod) edge[partof] (csd);
		\path (smtd) edge[isa] (mtd);
		\path (mcp) edge[isa] (cpp);
		\path (crlipid) edge[isa] (rlipid) edge[isa] (crorg);
		\path (crocc) edge[isa] (rocc) edge[isa] (crorg);
		\path (cdetox) edge[isa] (detox) edge[partof] (crtox);
		\path (rvitd) edge[isa] (rvit) edge[isa] (rlipid);
		\path (hemo) edge[isa, bend right=35] (celldev);
		\path (crvit) edge[isa] (rvit) edge[isa] (crnut);
		\path (rbfcd) edge[isa] (rfcd) edge[regl] (bfcd);
		\path (prfcd) edge[isa] (rfcd) edge[isa] (prcdiff) edge[posreg] (fcd);
		\path (heartmorph) edge[isa] (aom) edge[partof] (heartdev);
		\path (heartgrowth) edge[isa] (orggrowth) edge[partof] (heartdev);
		\path (cmtd) edge[isa] (smtd) edge[partof] (heartdev);
		\path (rscp) edge[isa] (rcpp) edge[regl] (scp);
		\path (hscp) edge[isa] (scp) edge[partof] (hemo);
		\path (irsp) edge[isa, bend left=20] (sigtrans);
		\path (smcp) edge[isa] (mcp);
		\path (crvitd) edge[isa] (rvitd) edge[isa] (crlipid) edge[isa] (crvit);
		\path (prbfcd) edge[isa] (rbfcd) edge[isa] (prfcd) edge[posreg] (bfcd);
		\path (cpihm) edge[isa] (cpp) edge[partof] (heartmorph);
		\path (heartform) edge[isa] (aof) edge[partof] (heartmorph);
		\path (rhg) edge[isa] (rog) edge[regl] (heartgrowth);
		\path (cmtg) edge[isa, bend right=30] (devgrowth) edge[partof] (heartgrowth) edge[partof] (cmtd);
		\path (rhscp) edge[isa] (rscp) edge[regl] (hscp);
		\path (vdrsp) edge[isa] (irsp) edge[partof] (crvitd);
		\path (cbprol) edge[isa] (cpihm) edge[partof] (heartform);
		\path (cmcp) edge[isa] (smcp) edge[partof] (cmtg);
		\path (prhg) edge[isa] (rhg) edge[isa] (prog) edge[posreg] (heartgrowth);
		\path (rcmtg) edge[isa] (rhg) edge[regl] (cmtg);
		\path (prcpihm) edge[isa] (rcpihm) edge[isa] (prcpp) edge[posreg] (cpihm);
		\path (rcbprol) edge[isa] (rcpihm) edge[regl] (cbprol);
		\path (rcmcp) edge[isa] (rcpihm) edge[isa] (rcmtg) edge[regl] (cmcp);
		\path (prcmtg) edge[isa] (rcmtg) edge[isa] (prhg) edge[posreg, bend right=15] (cmtg);
		\path (prcbprol) edge[isa] (rcbprol) edge[isa] (prcpihm) edge[posreg] (cbprol);
		\path (prcmcp) edge[isa] (rcmcp) edge[isa] (prcpihm) edge[isa] (prcmtg) edge[posreg, bend right=10] (cmcp);
		\end{pgfonlayer}
	\end{tikzpicture}
\end{document}
